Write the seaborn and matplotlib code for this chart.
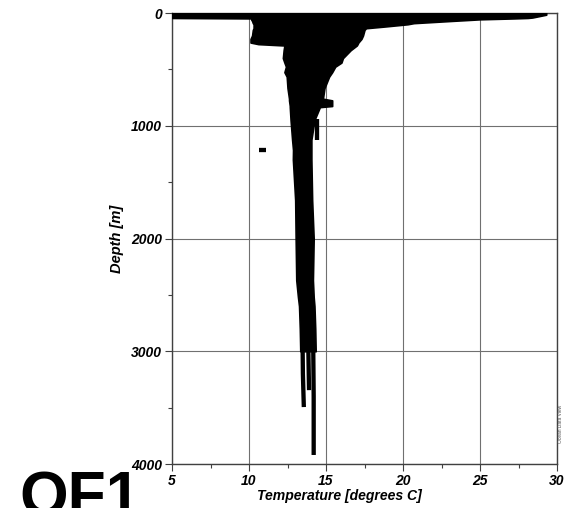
import matplotlib
matplotlib.use("Agg")
import matplotlib.pyplot as plt
import seaborn as sns
import pandas as pd
from matplotlib.ticker import MultipleLocator

# ---- data ----
env_depth = [0, 15, 40, 44, 48, 56, 60, 70, 90, 100, 120, 135, 150, 200, 230, 262, 276, 288,
             330, 400, 440, 476, 525, 565, 666, 760, 775, 825, 835, 950, 1125, 1215, 1300,
             1660, 2000, 2370, 2520, 2600, 2800, 3000]
env_temp_left = [5.0, 5.0, 5.0, 5.0, 10.2, 10.2, 10.15, 10.2, 10.25, 10.3, 10.3, 10.3, 10.25, 10.2,
                 10.1, 10.1, 10.6, 12.3, 12.25, 12.2, 12.3, 12.4, 12.3, 12.45, 12.5, 12.6, 12.6,
                 12.65, 12.65, 12.7, 12.8, 12.86, 12.85, 13.0, 13.03, 13.07, 13.18, 13.25, 13.3,
                 13.33]
env_temp_right = [29.3, 29.3, 28.4, 28.1, 27.2, 25.0, 24.5, 23.2, 20.7, 20.3, 18.8, 17.6, 17.5,
                  17.4, 17.3, 17.1, 17.05, 17.0, 16.6, 16.1, 16.0, 15.6, 15.4, 15.2, 14.9, 14.8,
                  15.4, 15.4, 14.6, 14.25, 14.05, 14.05, 14.05, 14.1, 14.2, 14.15, 14.2, 14.25,
                  14.3, 14.33]

streak_id = ["A", "A", "A", "B", "B", "B", "C", "C", "C", "D", "D", "E", "E"]
streak_depth = [2950, 3200, 3495, 2950, 3200, 3345, 2950, 3400, 3920, 940, 1125, 1217, 1217]
streak_temp = [13.48, 13.5, 13.56, 13.85, 13.88, 13.9, 14.17, 14.2, 14.2, 14.4, 14.4, 10.66, 11.08]

x_ticks = [5, 10, 15, 20, 25, 30]
y_ticks = [0, 1000, 2000, 3000, 4000]

# ---- style ----
sns.set_style("ticks")
plt.rcParams["font.family"] = ["Liberation Sans", "DejaVu Sans"]
plt.rcParams["text.color"] = "black"
plt.rcParams["axes.labelcolor"] = "black"
plt.rcParams["xtick.color"] = "black"
plt.rcParams["ytick.color"] = "black"

fig = plt.figure(figsize=(5.64, 5.08), dpi=100)
ax = fig.add_axes([172 / 564, 1 - 464 / 508, (557 - 172) / 564, (464 - 13) / 508])

ax.set_xlim(5, 30)
ax.set_ylim(4000, 0)
ax.set_xticks(x_ticks)
ax.set_yticks(y_ticks)
ax.xaxis.set_minor_locator(MultipleLocator(2.5))
ax.yaxis.set_minor_locator(MultipleLocator(500))
ax.grid(True, which="major", color="#707070", linewidth=0.8)
ax.set_axisbelow(True)

ax.fill_betweenx(env_depth, env_temp_left, env_temp_right, color="black", linewidth=1.2,
                 edgecolor="black", zorder=3)

df = pd.DataFrame({"streak": streak_id, "depth": streak_depth, "temp": streak_temp})
sns.lineplot(data=df, x="temp", y="depth", units="streak", estimator=None, sort=False,
             color="black", linewidth=3.1, ax=ax, legend=False, zorder=4,
             solid_capstyle="butt")

ax.set_xlim(5, 30)
ax.set_ylim(4000, 0)

for s in ax.spines.values():
    s.set_color("#404040")
    s.set_linewidth(1.0)
ax.tick_params(which="major", direction="out", length=5, width=0.8, color="#404040", pad=2,
               labelcolor="black")
ax.tick_params(which="minor", direction="out", length=3, width=0.8, color="#404040")
ax.set_xticklabels([str(v) for v in x_ticks], fontweight="bold", fontstyle="italic", fontsize=10)
ax.set_yticklabels([str(v) for v in y_ticks], fontweight="bold", fontstyle="italic", fontsize=10)

ax.set_xlabel("Temperature [degrees C]", fontweight="bold", fontstyle="italic", fontsize=10.1,
              labelpad=1)
ax.xaxis.set_label_coords((339 - 172) / 385, -0.055)
ax.xaxis.label.set_va("top")
ax.set_ylabel("Depth [m]", fontweight="bold", fontstyle="italic", fontsize=10.5, labelpad=5)

fig.text(19 / 564, 1 - 515 / 508, "QF1", fontsize=45, fontweight="bold", ha="left",
         va="baseline", color="black")
fig.text(0.994, 0.165, "Ocean Data View", fontsize=3.5, rotation=90, color="#555555",
         ha="center", va="center")

fig.savefig("out.png", dpi=100)
